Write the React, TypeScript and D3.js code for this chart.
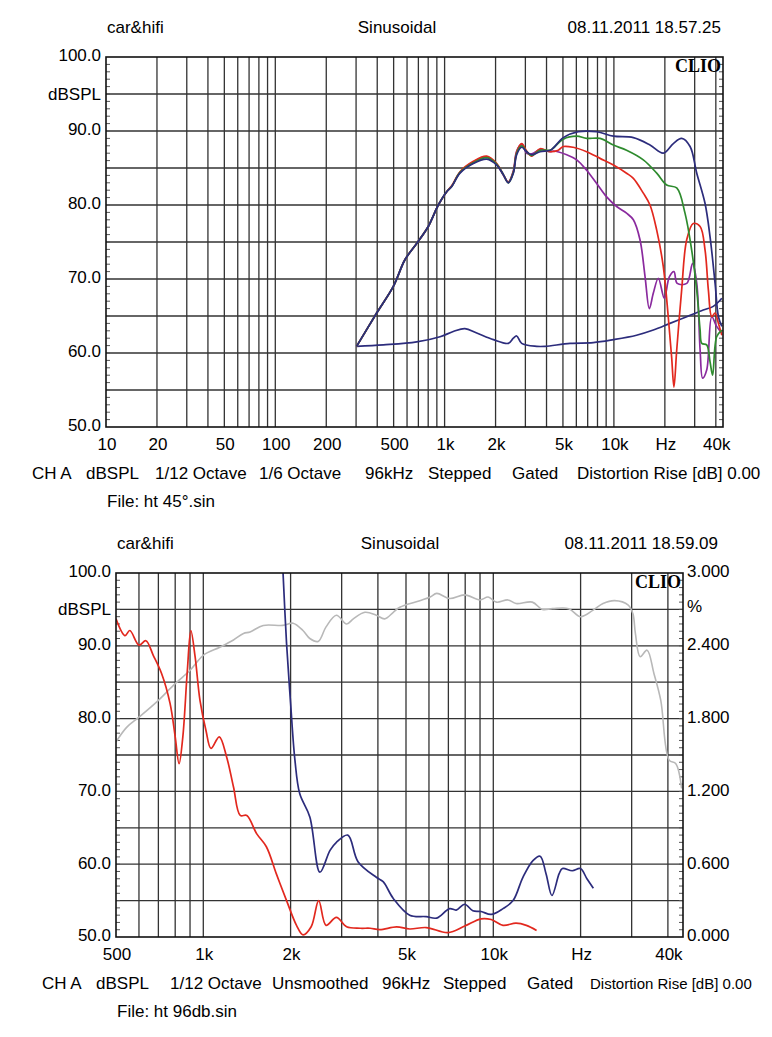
import React from "react";
import * as d3 from "d3";

type P = [number, number];

// ---------- Chart 1 (ht 45°) ----------
const top1Labels = ["10", "20", "50", "100", "200", "500", "1k", "2k", "5k", "10k", "Hz", "40k"];
const top1LabelFreqs = [10, 20, 50, 100, 200, 500, 1000, 2000, 5000, 10000, 20000, 40000];
const top1Grid = [20, 30, 40, 50, 60, 70, 80, 90, 100, 200, 300, 400, 500, 600, 700, 800, 900, 1000, 2000, 3000, 4000, 5000, 6000, 7000, 8000, 9000, 10000, 20000, 30000, 40000];
const yLabels = ["50.0", "60.0", "70.0", "80.0", "90.0", "100.0"];
const yLabelVals = [50, 60, 70, 80, 90, 100];

const navyMain: P[] = [[302,60.9],[397,65.4],[498,69.0],[583,72.6],[684,74.8],[801,77.1],[918,80.0],[1029,81.8],[1101,82.5],[1233,84.3],[1479,85.6],[1774,86.2],[2032,85.4],[2224,84.1],[2378,83.0],[2547,84.3],[2666,86.8],[2853,87.8],[3054,87.2],[3270,86.8],[3665,87.2],[4200,87.4],[4385,87.7],[5023,89.1],[6162,89.9],[7913,89.9],[9930,89.3],[13030,89.1],[16340,88.1],[19570,87.0],[22440,88.3],[25130,89.0],[28180,87.9],[30860,84.3],[34550,80.2],[36980,75.7],[39600,69.4],[41450,64.9],[43400,63.6]];
const redCurve: P[] = [[302,60.9],[397,65.4],[498,69.0],[583,72.6],[684,74.8],[801,77.1],[918,80.0],[1029,81.8],[1101,82.6],[1233,84.5],[1479,85.9],[1774,86.6],[2032,85.6],[2224,84.1],[2378,83.1],[2547,84.5],[2666,87.2],[2853,88.3],[3054,87.3],[3270,86.6],[3665,87.6],[4200,87.2],[4690,87.4],[5023,87.9],[5750,87.8],[6900,87.2],[8280,86.3],[9930,85.4],[11880,84.3],[13030,83.6],[14920,81.6],[16340,80.0],[17900,76.6],[19570,71.7],[20940,64.9],[21920,59.5],[22630,55.4],[23500,60.4],[25130,68.5],[26920,75.3],[29420,77.5],[32300,77.1],[34550,73.9],[36150,68.5],[37840,64.9],[39600,65.4],[41450,64.0],[43400,62.4]];
const greenCurve: P[] = [[302,60.9],[397,65.4],[498,69.0],[583,72.6],[684,74.8],[801,77.1],[918,80.0],[1029,81.8],[1101,82.5],[1233,84.4],[1479,85.7],[1774,86.4],[2032,85.5],[2224,84.1],[2378,83.0],[2547,84.4],[2666,87.0],[2853,88.0],[3054,87.2],[3270,86.7],[3665,87.4],[4200,87.4],[4385,87.7],[5023,88.9],[6030,89.3],[6900,89.0],[8280,89.0],[9930,88.1],[11880,87.4],[14920,86.1],[17900,84.3],[20500,82.7],[23500,82.3],[26300,78.9],[28800,73.9],[30860,68.5],[32300,63.1],[33040,61.3],[35330,61.1],[36980,58.8],[38290,57.0],[40450,62.2],[43400,63.1]];
const purpleCurve: P[] = [[302,60.9],[397,65.4],[498,69.0],[583,72.6],[684,74.8],[801,77.1],[918,80.0],[1029,81.8],[1101,82.5],[1233,84.4],[1479,85.8],[1774,86.5],[2032,85.5],[2224,84.0],[2378,83.1],[2547,84.6],[2666,87.3],[2853,88.2],[3054,87.0],[3270,86.9],[3665,87.5],[4200,87.2],[4385,87.3],[5260,86.8],[6030,86.1],[6900,84.7],[7913,82.9],[9060,81.1],[10380,79.8],[11880,78.9],[13030,78.0],[14260,75.3],[15280,70.3],[16190,66.0],[17100,68.1],[18300,70.1],[19850,67.4],[21250,70.3],[22630,71.0],[23660,69.4],[26920,69.4],[29170,72.1],[30860,69.4],[32300,60.4],[33420,56.6],[35330,57.7],[37840,64.9],[40450,63.6],[43400,62.7]];
const navyLow: P[] = [[302,60.9],[435,61.1],[684,61.5],[940,62.2],[1125,62.9],[1318,63.3],[1548,62.7],[1942,61.8],[2378,61.3],[2547,62.0],[2666,62.3],[2853,61.3],[3500,60.9],[3920,60.9],[5510,61.3],[7550,61.4],[9930,61.8],[13600,62.4],[17100,63.1],[21430,64.0],[26920,64.9],[33700,65.8],[38620,66.3],[43400,67.4]];

// ---------- Chart 2 (ht 96db) ----------
const bot2Labels = ["500", "1k", "2k", "5k", "10k", "Hz", "40k"];
const bot2LabelFreqs = [500, 1000, 2000, 5000, 10000, 20000, 40000];
const bot2Grid = [600, 700, 800, 900, 1000, 2000, 3000, 4000, 5000, 6000, 7000, 8000, 9000, 10000, 20000, 30000, 40000];
const pctLabels = ["0.000", "0.600", "1.200", "1.800", "2.400", "3.000"];

const redDist: P[] = [[500,93.7],[537,91.4],[558,92.1],[600,90.1],[634,90.7],[672,88.7],[718,86.2],[768,82.1],[800,77.5],[825,73.8],[850,77.5],[881,86.6],[906,92.1],[937,88.5],[974,82.5],[1021,78.4],[1063,75.9],[1135,77.5],[1204,74.7],[1271,70.6],[1341,66.7],[1413,66.7],[1527,64.2],[1650,62.4],[1785,58.7],[1937,55.0],[2096,51.6],[2206,50.3],[2355,51.4],[2500,55.0],[2650,51.6],[2877,52.7],[3120,51.4],[3480,51.2],[3760,51.2],[4060,51.0],[4640,51.4],[5150,51.1],[5870,51.3],[6975,50.6],[7970,51.5],[9075,52.5],[9835,52.4],[10800,51.6],[11980,51.9],[13000,51.6],[14100,50.9]];
const navyDist: P[] = [[1881,100.5],[1937,90.3],[2000,82.1],[2070,74.3],[2150,69.7],[2330,66.5],[2525,58.9],[2735,61.9],[2877,63.0],[3150,64.0],[3420,60.3],[3950,58.2],[4170,57.6],[4520,55.3],[5150,53.0],[5870,52.8],[6380,52.6],[7070,53.9],[7450,53.7],[7970,54.5],[8500,53.6],[9075,53.5],[9835,53.1],[10800,53.9],[11700,55.0],[12650,58.2],[13700,60.5],[14500,61.1],[15200,58.7],[15930,55.7],[16870,58.7],[17310,59.4],[18720,59.1],[19970,59.4],[21030,58.0],[22130,56.7]];
const grayResp: P[] = [[500,76.8],[544,78.8],[600,80.2],[691,82.3],[800,84.8],[899,86.6],[1000,88.7],[1140,89.8],[1271,90.8],[1376,91.7],[1450,91.9],[1610,92.8],[1880,92.8],[2040,93.1],[2206,92.1],[2330,91.0],[2490,90.6],[2650,92.6],[2877,94.2],[3120,93.0],[3290,93.7],[3610,94.6],[3950,94.2],[4220,93.7],[4520,94.6],[4760,95.3],[5580,96.2],[6060,96.7],[6380,97.2],[7070,96.5],[7970,97.0],[8990,96.3],[9600,96.7],[10250,96.0],[11240,96.3],[11980,95.8],[13630,96.0],[14770,95.0],[16000,95.1],[18200,95.1],[20000,94.0],[22100,94.9],[23900,95.8],[26200,96.2],[29200,95.6],[30300,94.4],[30900,91.7],[32100,88.5],[33900,89.4],[35800,86.2],[37800,82.5],[40400,74.3],[42600,73.8],[44600,70.4]];

const FONT = "'Liberation Sans', Arial, sans-serif";
const FS = 17;
const NAVY = "#2c2c7c";
const RED = "#e2281e";
const GREEN = "#2e8b2e";
const PURPLE = "#8a2a9e";
const GRAY = "#b8b8b8";

type Series = { data: P[]; color: string; width?: number };
type FootItem = { t: string; x: number; fs?: number };

function Panel(props: {
  id: string;
  left: number; right: number; top: number; bottom: number;
  fMin: number; fMax: number;
  grid: number[]; labels: string[]; labelFreqs: number[];
  series: Series[];
  header: [string, string, string];
  headerY: number; headerLeftX: number; headerMidX: number; headerRightX: number;
  footer: FootItem[];
  fileText: string; fileX: number;
  yLabelX: number;
  rightAxis?: boolean;
}) {
  const { left, right, top, bottom } = props;
  const x = d3.scaleLog().domain([props.fMin, props.fMax]).range([left, right]);
  const y = d3.scaleLinear().domain([50, 100]).range([bottom, top]);
  const line = d3.line<P>().x(d => x(d[0])).y(d => y(d[1])).curve(d3.curveCatmullRom.alpha(0.5));
  const hLines = d3.range(55, 100, 5);
  const minor = d3.range(51, 100, 1);
  const clipId = "clip-" + props.id;
  const tickY = bottom + 19;
  const footY = bottom + 48;
  const fileY = bottom + 76;
  return (
    <g>
      <defs>
        <clipPath id={clipId}>
          <rect x={left} y={top} width={right - left} height={bottom - top} />
        </clipPath>
      </defs>
      <text x={props.headerLeftX} y={props.headerY} fontFamily={FONT} fontSize={FS} dominantBaseline="middle">{props.header[0]}</text>
      <text x={props.headerMidX} y={props.headerY} fontFamily={FONT} fontSize={FS} textAnchor="middle" dominantBaseline="middle">{props.header[1]}</text>
      <text x={props.headerRightX} y={props.headerY} fontFamily={FONT} fontSize={FS} textAnchor="end" dominantBaseline="middle">{props.header[2]}</text>
      <rect x={left} y={top} width={right - left} height={bottom - top} fill="#fff" />
      {hLines.map(v => (
        <line key={"h" + v} x1={left} x2={right} y1={y(v)} y2={y(v)} stroke="#333" strokeWidth={1.3} />
      ))}
      {props.grid.map(f => (
        <line key={"v" + f} x1={x(f)} x2={x(f)} y1={top} y2={bottom} stroke="#333" strokeWidth={1.3} />
      ))}
      {minor.map(v => (
        <g key={"m" + v}>
          <line x1={left} x2={left + 4} y1={y(v)} y2={y(v)} stroke="#555" strokeWidth={1} />
          <line x1={right - 4} x2={right} y1={y(v)} y2={y(v)} stroke="#555" strokeWidth={1} />
        </g>
      ))}
      <g clipPath={`url(#${clipId})`}>
        {props.series.map((s, i) => (
          <path key={i} d={line(s.data) || ""} fill="none" stroke={s.color} strokeWidth={s.width ?? 1.7} strokeLinejoin="round" />
        ))}
      </g>
      <rect x={left} y={top} width={right - left} height={bottom - top} fill="none" stroke="#111" strokeWidth={1.6} />
      <text x={right - 2} y={top + 11} fontFamily="'Liberation Serif', 'DejaVu Serif', serif" fontWeight="bold" fontSize={18} textAnchor="end" dominantBaseline="middle">CLIO</text>
      {yLabelVals.map((v, i) => (
        <text key={"yl" + v} x={props.yLabelX} y={y(v)} fontFamily={FONT} fontSize={FS} textAnchor="end" dominantBaseline="middle">{yLabels[i]}</text>
      ))}
      <text x={props.yLabelX} y={y(94.8)} fontFamily={FONT} fontSize={FS} textAnchor="end" dominantBaseline="middle">dBSPL</text>
      {props.rightAxis && yLabelVals.map((v, i) => (
        <text key={"yr" + v} x={right + 4} y={y(v)} fontFamily={FONT} fontSize={FS} dominantBaseline="middle">{pctLabels[i]}</text>
      ))}
      {props.rightAxis && (
        <text x={right + 4} y={y(95.3)} fontFamily={FONT} fontSize={FS} dominantBaseline="middle">%</text>
      )}
      {props.labelFreqs.map((f, i) => (
        <text key={"xl" + f} x={x(f) + 1} y={tickY} fontFamily={FONT} fontSize={FS} textAnchor="middle" dominantBaseline="middle">{props.labels[i]}</text>
      ))}
      {props.footer.map((it, i) => (
        <text key={"f" + i} x={it.x} y={footY} fontFamily={FONT} fontSize={it.fs ?? FS} dominantBaseline="middle">{it.t}</text>
      ))}
      <text x={props.fileX} y={fileY} fontFamily={FONT} fontSize={FS} dominantBaseline="middle">{props.fileText}</text>
    </g>
  );
}

export default function App() {
  return (
    <svg width={772} height={1037} style={{ position: "absolute", left: 0, top: 0, background: "#fff" }}>
      <rect x={0} y={0} width={772} height={1037} fill="#fff" />
      <Panel
        id="a"
        left={106} right={723} top={57} bottom={427}
        fMin={10} fMax={10 ** (1 + 617 / 169.3)}
        grid={top1Grid} labels={top1Labels} labelFreqs={top1LabelFreqs}
        series={[
          { data: navyLow, color: NAVY },
          { data: purpleCurve, color: PURPLE },
          { data: redCurve, color: RED },
          { data: greenCurve, color: GREEN },
          { data: navyMain, color: NAVY },
        ]}
        header={["car&hifi", "Sinusoidal", "08.11.2011 18.57.25"]}
        headerY={29} headerLeftX={107} headerMidX={397} headerRightX={721}
        footer={[
          { t: "CH A", x: 32 }, { t: "dBSPL", x: 86 }, { t: "1/12 Octave", x: 155 },
          { t: "1/6 Octave", x: 259 }, { t: "96kHz", x: 365 }, { t: "Stepped", x: 428 },
          { t: "Gated", x: 512 }, { t: "Distortion Rise [dB] 0.00", x: 577 },
        ]}
        fileText="File: ht 45°.sin" fileX={107}
        yLabelX={101}
      />
      <Panel
        id="b"
        left={116} right={683} top={573} bottom={937}
        fMin={500} fMax={500 * 10 ** (567 / 290)}
        grid={bot2Grid} labels={bot2Labels} labelFreqs={bot2LabelFreqs}
        series={[
          { data: grayResp, color: GRAY, width: 1.6 },
          { data: redDist, color: RED },
          { data: navyDist, color: NAVY },
        ]}
        header={["car&hifi", "Sinusoidal", "08.11.2011 18.59.09"]}
        headerY={545} headerLeftX={117} headerMidX={400} headerRightX={718}
        footer={[
          { t: "CH A", x: 42 }, { t: "dBSPL", x: 96 }, { t: "1/12 Octave", x: 170 },
          { t: "Unsmoothed", x: 272 }, { t: "96kHz", x: 382 }, { t: "Stepped", x: 443 },
          { t: "Gated", x: 527 }, { t: "Distortion Rise [dB] 0.00", x: 590, fs: 15 },
        ]}
        fileText="File: ht 96db.sin" fileX={117}
        yLabelX={111}
        rightAxis
      />
    </svg>
  );
}
